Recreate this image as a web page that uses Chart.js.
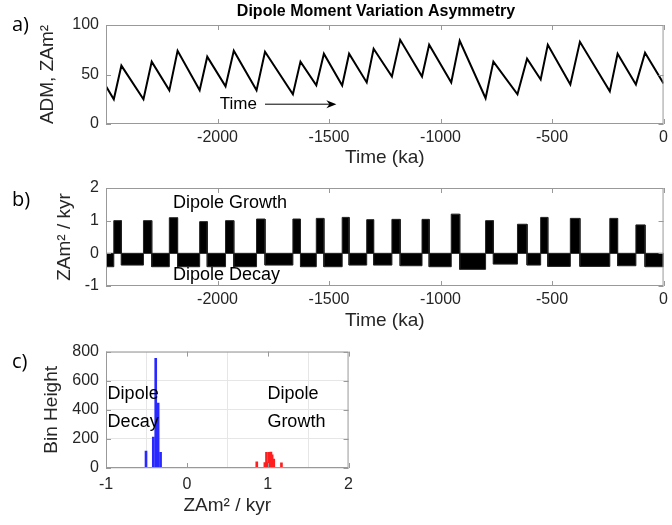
<!DOCTYPE html>
<html>
<head>
<meta charset="utf-8">
<title>Dipole Moment Variation Asymmetry</title>
<script src="https://cdn.jsdelivr.net/npm/chart.js@4.4.1/dist/chart.umd.min.js"></script>
<style>
    body { margin: 0; background: #fff; }
    .panel { position: absolute; left: 0; }
    #panelA { top: 0; }
    #panelB { top: 170px; }
    #panelC { top: 335px; }
</style>
</head>
<body>
<div class="panel" id="panelA"><canvas id="admChart" width="672" height="170"></canvas></div>
<div class="panel" id="panelB"><canvas id="rateChart" width="672" height="165"></canvas></div>
<div class="panel" id="panelC"><canvas id="histChart" width="360" height="190"></canvas></div>
<script>
// Sawtooth breakpoints (ka) and axial dipole moment (ZAm^2)
const times = [-2500, -2465, -2431, -2332, -2295, -2216, -2179, -2080, -2046, -1964,
    -1927, -1825, -1787, -1662, -1628, -1557, -1523, -1441, -1410, -1331,
    -1300, -1218, -1181, -1083, -1051, -952, -914, -798, -763, -655,
    -612, -551, -519, -418, -375, -241, -206, -124, -83, 0];
const admValues = [38, 25, 59, 25, 63, 34, 74, 34, 68, 38,
    74, 34, 73, 30, 63, 39, 71, 39, 71, 42,
    76, 48, 85, 48, 80, 42, 84, 26, 63, 30,
    66, 45, 80, 40, 83, 33, 71, 40, 72, 41];

// Rate of change for each interval between breakpoints (ZAm^2 / kyr)
const rates = [-0.41, 1.0, -0.36, 1.0, -0.41, 1.09, -0.41, 0.97, -0.41, 1.0,
    -0.41, 1.05, -0.36, 1.05, -0.41, 1.07, -0.41, 1.1, -0.36, 1.03,
    -0.36, 1.04, -0.38, 1.04, -0.41, 1.2, -0.49, 1.0, -0.33, 0.89,
    -0.36, 1.1, -0.4, 1.07, -0.4, 1.07, -0.38, 0.87, -0.41];

// Histogram of the rates
const decayBins = [-0.505, -0.415, -0.385, -0.355, -0.325];
const decayCounts = [117, 213, 754, 446, 108];
const growthBins = [0.865, 0.965, 0.985, 1.005, 1.02, 1.04, 1.055, 1.075, 1.17];
const growthCounts = [42, 38, 108, 38, 108, 110, 90, 62, 35];
const histRange = [-0.51, 1.19];

// Tick labels
const timeTicks = [-2000, -1500, -1000, -500, 0];
const admTicks = [0, 50, 100];
const rateTicks = [-1, 0, 1, 2];
const binTicks = [-1, 0, 1, 2];
const countTicks = [0, 200, 400, 600, 800];

const FONT = "'Liberation Sans', Arial, sans-serif";
const tickFont = { family: FONT, size: 16 };
const titleFont = { family: FONT, size: 19 };
const TEXT = '#262626';

// matlab style box with inward ticks
const boxPlugin = {
    id: 'box',
    afterDraw(chart) {
        const { ctx, chartArea: a, scales: { x, y } } = chart;
        ctx.save();
        ctx.strokeStyle = '#999';
        ctx.lineWidth = 1;
        ctx.strokeRect(a.left + 0.5, a.top + 0.5, a.right - a.left - 1, a.bottom - a.top - 1);
        ctx.beginPath();
        x.ticks.forEach(t => {
            const px = Math.round(x.getPixelForValue(t.value)) + 0.5;
            ctx.moveTo(px, a.bottom); ctx.lineTo(px, a.bottom - 5);
            ctx.moveTo(px, a.top); ctx.lineTo(px, a.top + 5);
        });
        y.ticks.forEach(t => {
            const py = Math.round(y.getPixelForValue(t.value)) + 0.5;
            ctx.moveTo(a.left, py); ctx.lineTo(a.left + 5, py);
            ctx.moveTo(a.right, py); ctx.lineTo(a.right - 5, py);
        });
        ctx.stroke();
        ctx.restore();
    }
};

// free text; data: true means x/y are in axis units
const notes = (items, arrow) => ({
    id: 'notes',
    afterDraw(chart) {
        const { ctx, scales: { x, y } } = chart;
        ctx.save();
        ctx.fillStyle = '#000';
        ctx.textBaseline = 'middle';
        items.forEach(n => {
            const px = n.data ? x.getPixelForValue(n.x) : n.x;
            const py = n.data ? y.getPixelForValue(n.y) : n.y;
            ctx.font = n.font;
            ctx.textAlign = n.align || 'left';
            ctx.fillText(n.text, px, py);
        });
        if (arrow) {
            const x0 = x.getPixelForValue(arrow.from);
            const x1 = x.getPixelForValue(arrow.to);
            const py = y.getPixelForValue(arrow.y);
            ctx.strokeStyle = '#000';
            ctx.lineWidth = 1;
            ctx.beginPath();
            ctx.moveTo(x0, py); ctx.lineTo(x1 - 6, py);
            ctx.stroke();
            ctx.beginPath();
            ctx.moveTo(x1, py);
            ctx.lineTo(x1 - 10, py - 4);
            ctx.lineTo(x1 - 7, py);
            ctx.lineTo(x1 - 10, py + 4);
            ctx.closePath();
            ctx.fill();
        }
        ctx.restore();
    }
});

const fixedTicks = values => scale => { scale.ticks = values.map(v => ({ value: v })); };

const axis = (min, max, tickValues, size, horizontal, title, titlePad, tickPad, grid) => ({
    type: 'linear',
    min: min,
    max: max,
    offset: false,
    afterBuildTicks: fixedTicks(tickValues),
    afterFit: horizontal ? s => { s.height = size; } : s => { s.width = size; },
    grid: { display: grid, color: '#e6e6e6', drawTicks: false },
    border: { display: false },
    ticks: {
        font: tickFont,
        color: TEXT,
        padding: tickPad,
        autoSkip: false,
        maxRotation: 0,
        callback: v => String(v),
    },
    title: {
        display: true,
        text: title,
        font: titleFont,
        color: TEXT,
        padding: horizontal ? { top: 0, bottom: titlePad } : { top: titlePad, bottom: 0 },
    },
});

const baseOptions = (padding, scales) => ({
    responsive: false,
    animation: false,
    layout: { padding: padding },
    plugins: { legend: { display: false }, tooltip: { enabled: false } },
    scales: scales,
});

const labelFont = "20px 'Open Sans', sans-serif";
const noteFont = "18px " + FONT;

// a) dipole moment
new Chart(document.getElementById('admChart'), {
    type: 'line',
    data: {
        datasets: [{
            data: times.map((t, i) => ({ x: t, y: admValues[i] })),
            borderColor: '#000',
            borderWidth: 2,
            pointRadius: 0,
            tension: 0,
        }],
    },
    options: baseOptions({ top: 25, right: 4, bottom: 0, left: 0 }, {
        x: axis(-2500, 0, timeTicks, 46, true, 'Time (ka)', 1, 4, false),
        y: axis(0, 100, admTicks, 106, false, 'ADM, ZAm\u00b2', 36, 7, false),
    }),
    plugins: [boxPlugin, notes([
        { text: 'Dipole Moment Variation Asymmetry', x: 376, y: 12, align: 'center', font: "bold 16px " + FONT },
        { text: 'a)', x: 12, y: 25, font: labelFont },
        { text: 'Time', x: -1990, y: 20, data: true, font: "17px " + FONT },
    ], { from: -1787, to: -1467, y: 20 })],
});

// b) rate of change, one flat step per interval, growth and decay kept apart
const stepsOf = pick => {
    const pts = [];
    rates.forEach((r, i) => {
        const v = pick(r);
        pts.push({ x: times[i], y: 0 }, { x: times[i], y: v }, { x: times[i + 1], y: v }, { x: times[i + 1], y: 0 });
    });
    return pts;
};

const stepStyle = {
    borderColor: '#222',
    borderWidth: 1,
    backgroundColor: '#000',
    fill: 'origin',
    pointRadius: 0,
    tension: 0,
};

new Chart(document.getElementById('rateChart'), {
    type: 'line',
    data: {
        datasets: [
            { ...stepStyle, data: stepsOf(r => Math.max(r, 0)) },
            { ...stepStyle, data: stepsOf(r => Math.min(r, 0)) },
        ],
    },
    options: baseOptions({ top: 18, right: 4, bottom: 0, left: 0 }, {
        x: axis(-2500, 0, timeTicks, 49, true, 'Time (ka)', 3, 4, false),
        y: axis(-1, 2, rateTicks, 106, false, 'ZAm\u00b2 / kyr', 53, 7, false),
    }),
    plugins: [boxPlugin, notes([
        { text: 'b)', x: 12, y: 30, font: labelFont },
        { text: 'Dipole Growth', x: -2200, y: 1.53, data: true, font: noteFont },
        { text: 'Dipole Decay', x: -2200, y: -0.67, data: true, font: noteFont },
    ])],
});

// c) histogram of rates
new Chart(document.getElementById('histChart'), {
    type: 'bar',
    data: {
        datasets: [
            {
                type: 'line',
                data: histRange.map(v => ({ x: v, y: 0 })),
                borderColor: 'rgb(40, 40, 255)',
                borderWidth: 1.2,
                pointRadius: 0,
                order: 0,
            },
            {
                data: decayBins.map((v, i) => ({ x: v, y: decayCounts[i] })),
                backgroundColor: 'rgb(40, 40, 255)',
                barThickness: 2,
                grouped: false,
                order: 1,
            },
            {
                data: growthBins.map((v, i) => ({ x: v, y: growthCounts[i] })),
                backgroundColor: 'rgb(255, 30, 30)',
                barThickness: 2,
                grouped: false,
                order: 2,
            },
        ],
    },
    options: baseOptions({ top: 15, right: 11, bottom: 0, left: 0 }, {
        x: axis(-1, 2, binTicks, 57, true, 'ZAm\u00b2 / kyr', 8, 7, true),
        y: axis(0, 800, countTicks, 106, false, 'Bin Height', 40, 7, true),
    }),
    plugins: [boxPlugin, notes([
        { text: 'c)', x: 12, y: 27, font: labelFont },
        { text: 'Dipole', x: -0.98, y: 509, data: true, font: noteFont },
        { text: 'Decay', x: -0.98, y: 313, data: true, font: noteFont },
        { text: 'Dipole', x: 0.996, y: 509, data: true, font: noteFont },
        { text: 'Growth', x: 0.996, y: 313, data: true, font: noteFont },
    ])],
});
</script>
</body>
</html>
